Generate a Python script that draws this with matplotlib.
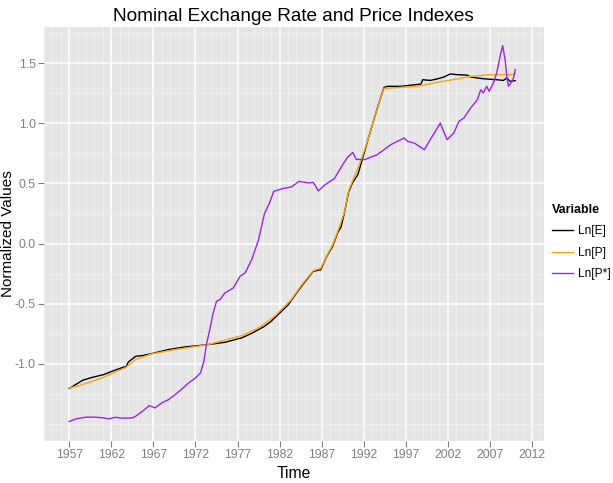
import matplotlib
matplotlib.use("Agg")
import matplotlib.pyplot as plt


# values (decimal year, log value)
e_years = [1957.0, 1958.6, 1959.8, 1961.1, 1962.1, 1963.3, 1963.8, 1964.0, 1964.9, 1965.7,
           1966.8, 1968.8, 1970.8, 1972.4, 1973.5, 1975.5, 1977.5, 1978.7, 1980.2, 1981.0,
           1983.0, 1984.6, 1986.0, 1986.9, 1987.5, 1988.3, 1988.9, 1989.3, 1989.7, 1990.2,
           1990.7, 1991.3, 1991.7, 1992.5, 1993.2, 1993.8, 1994.4, 1994.8, 1996.4, 1998.8,
           1999.0, 1999.9, 2000.7, 2001.5, 2002.3, 2003.1, 2004.3, 2004.7, 2006.2, 2007.8,
           2008.6, 2009.0, 2009.4, 2010.0]
e_vals = [-1.204, -1.135, -1.11, -1.088, -1.06, -1.03, -1.02, -0.985, -0.936, -0.93,
          -0.914, -0.88, -0.858, -0.847, -0.839, -0.82, -0.783, -0.745, -0.687, -0.645,
          -0.51, -0.354, -0.23, -0.216, -0.119, -0.022, 0.09, 0.139, 0.255, 0.43,
          0.51, 0.573, 0.67, 0.864, 1.03, 1.168, 1.298, 1.307, 1.307, 1.326,
          1.362, 1.356, 1.368, 1.384, 1.41, 1.404, 1.40, 1.384, 1.37, 1.362,
          1.356, 1.376, 1.348, 1.354]

p_years = [1957.0, 1958.2, 1960.9, 1963.7, 1964.9, 1966.8, 1969.6, 1973.5, 1977.5, 1979.5,
           1981.4, 1983.4, 1984.6, 1986.0, 1986.9, 1987.5, 1988.3, 1988.9, 1989.7, 1990.2,
           1990.9, 1991.7, 1992.5, 1993.2, 1993.8, 1994.4, 1998.4, 2000.7, 2003.1, 2004.7,
           2007.0, 2009.8, 2010.0]
p_vals = [-1.20, -1.18, -1.116, -1.03, -0.963, -0.916, -0.88, -0.839, -0.764, -0.70,
          -0.604, -0.465, -0.345, -0.225, -0.205, -0.115, -0.01, 0.10, 0.26, 0.44,
          0.559, 0.698, 0.864, 1.03, 1.168, 1.29, 1.307, 1.34, 1.368, 1.39,
          1.404, 1.404, 1.416]

ps_years = [1957.0, 1957.8, 1959.0, 1960.1, 1961.1, 1961.7, 1962.5, 1963.3, 1964.5, 1964.9,
            1965.7, 1966.5, 1967.2, 1968.0, 1968.8, 1969.6, 1970.4, 1971.2, 1972.0, 1972.6,
            1973.0, 1973.3, 1973.7, 1974.1, 1974.5, 1974.9, 1975.5, 1976.5, 1977.3, 1977.9,
            1978.7, 1979.5, 1980.2, 1980.8, 1981.3, 1982.4, 1983.4, 1984.3, 1985.5, 1986.0,
            1986.6, 1987.4, 1988.5, 1989.5, 1990.1, 1990.7, 1991.1, 1992.1, 1993.6, 1995.2,
            1996.8, 1997.2, 1998.0, 1999.2, 1999.9, 2000.5, 2001.1, 2001.4, 2001.9, 2002.7,
            2003.3, 2003.9, 2004.7, 2005.5, 2005.9, 2006.2, 2006.6, 2006.9, 2007.4, 2007.8,
            2008.2, 2008.5, 2008.8, 2009.0, 2009.2, 2009.6, 2009.8, 2010.0]
ps_vals = [-1.478, -1.456, -1.442, -1.442, -1.448, -1.456, -1.443, -1.45, -1.448, -1.434,
           -1.393, -1.346, -1.365, -1.323, -1.296, -1.254, -1.207, -1.157, -1.116, -1.074,
           -0.977, -0.839, -0.714, -0.576, -0.479, -0.465, -0.41, -0.368, -0.271, -0.244,
           -0.13, 0.033, 0.25, 0.338, 0.434, 0.458, 0.471, 0.517, 0.504, 0.509,
           0.438, 0.49, 0.54, 0.656, 0.72, 0.758, 0.70, 0.698, 0.739, 0.822,
           0.878, 0.85, 0.836, 0.781, 0.864, 0.933, 1.002, 0.947, 0.864, 0.919,
           1.016, 1.044, 1.127, 1.196, 1.279, 1.252, 1.307, 1.265, 1.334, 1.418,
           1.556, 1.645, 1.528, 1.39, 1.307, 1.348, 1.376, 1.445]

series = [
    ("Ln[E]", e_years, e_vals, "black"),
    ("Ln[P]", p_years, p_vals, "#FFA500"),
    ("Ln[P*]", ps_years, ps_vals, "#A020F0"),
]

year_ticks = list(range(1957, 2013, 5))
minor_years = [y for y in range(1954, 2014) if y not in year_ticks]
y_ticks = [-1.0, -0.5, 0.0, 0.5, 1.0, 1.5]
y_minor = [-1.5, -1.25, -0.75, -0.25, 0.25, 0.75, 1.25, 1.75]

plt.rcParams['font.family'] = ['Liberation Sans', 'DejaVu Sans']

fig = plt.figure(figsize=(6.13, 4.83), dpi=100)
ax = fig.add_axes([44 / 613, 42 / 483, 499.5 / 613, 414 / 483])
ax.set_facecolor("#E5E5E5")

for name, xs, ys, col in series:
    ax.plot(xs, ys, color=col, linewidth=1.0, label=name, zorder=3)

ax.set_xlim(1954.3, 2013.36)
ax.set_ylim(-1.64, 1.80)

ax.set_xticks(year_ticks)
ax.set_xticklabels([str(y) for y in year_ticks])
ax.set_xticks(minor_years, minor=True)
ax.set_yticks(y_ticks)
ax.set_yticklabels(["%.1f" % v for v in y_ticks])
ax.set_yticks(y_minor, minor=True)

ax.grid(which="major", color="white", linewidth=1.1, zorder=1)
ax.grid(which="minor", color="#F2F2F2", linewidth=0.6, zorder=1)
ax.set_axisbelow(True)
for s in ax.spines.values():
    s.set_visible(False)

ax.tick_params(which="major", length=4, color="#7F7F7F", labelcolor="#7F7F7F",
               labelsize=8.7, width=0.8, pad=2)
ax.tick_params(which="minor", length=0)

ax.set_xlabel("Time", fontsize=11.3, labelpad=3)
ax.set_ylabel("Normalized Values", fontsize=11.0)
ax.yaxis.set_label_coords(-0.059, 0.5)
ax.set_title("Nominal Exchange Rate and Price Indexes", fontsize=13.7, pad=4)

leg = ax.legend(loc="upper left", bbox_to_anchor=(1.008, 0.585), frameon=False,
                title="Variable", fontsize=8.6, handlelength=1.7, handletextpad=0.45,
                labelspacing=0.8, borderaxespad=0)
leg.get_title().set_fontweight("bold")
leg.get_title().set_fontsize(9.0)
leg._legend_box.align = "left"

fig.savefig("out.png", dpi=100)
